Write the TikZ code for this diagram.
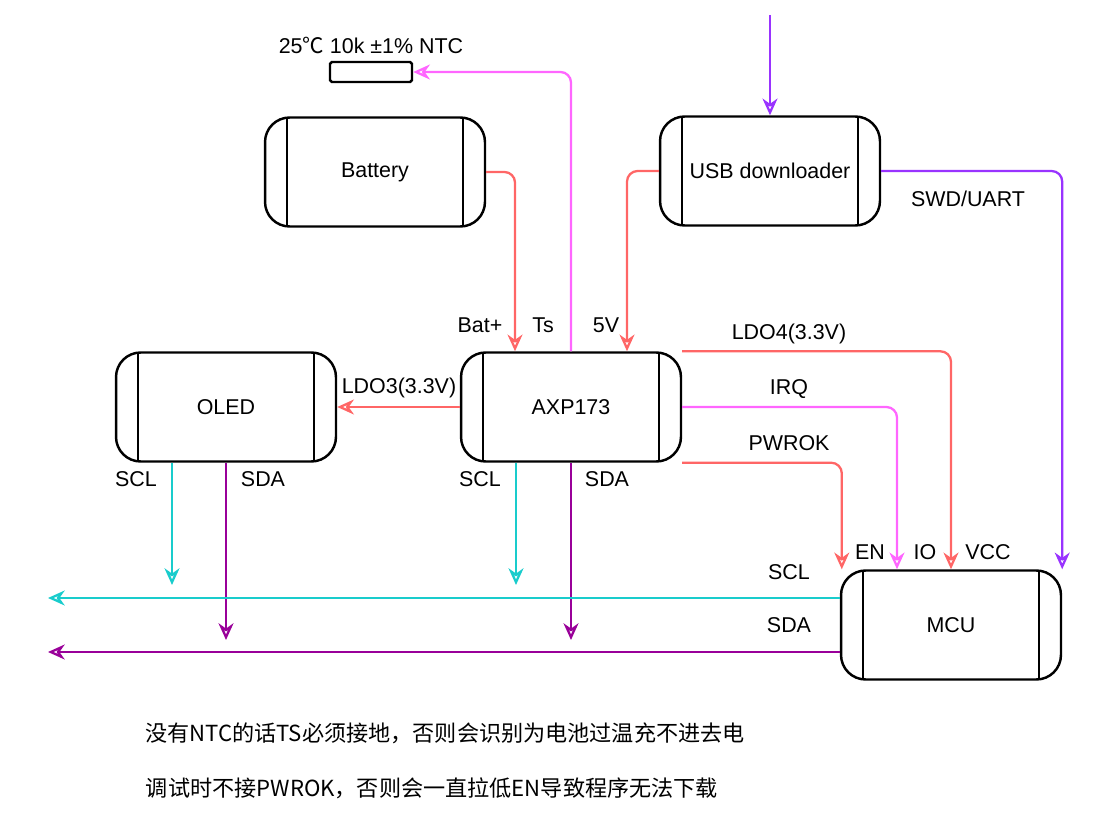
\documentclass[tikz,border=0pt]{standalone}
\usepackage{fontspec}
\setmainfont{Liberation Sans}
\newfontfamily\cjk{Noto Sans CJK SC}
\usepackage{tikz}
\usetikzlibrary{calc,arrows.meta}
\definecolor{salmon}{HTML}{FF6666}
\definecolor{orchid}{HTML}{FF66FF}
\definecolor{violet}{HTML}{9933FF}
\definecolor{teal}{HTML}{19CCCC}
\definecolor{plum}{HTML}{990099}
\tikzset{
  proc/.style={draw,line width=1.4pt,rounded corners=14pt,minimum width=4.4cm,minimum height=2.18cm,font=\fontsize{12.2}{14}\selectfont,
    path picture={\draw[line width=1pt] ([xshift=0.44cm]path picture bounding box.north west)--([xshift=0.44cm]path picture bounding box.south west);
      \draw[line width=1pt] ([xshift=-0.44cm]path picture bounding box.north east)--([xshift=-0.44cm]path picture bounding box.south east);}},
  lab/.style={inner sep=0pt,font=\fontsize{12.2}{14}\selectfont},
  wire/.style={line width=1.3pt,rounded corners=6pt,-{Stealth[open,length=9.5pt,width=8.5pt,inset=3pt]}}
}
\begin{document}
\begin{tikzpicture}[x=0.02cm,y=-0.02cm]
\useasboundingbox (0,0) rectangle (1116,828);
\node[draw,line width=1.4pt,rounded corners=1pt,minimum width=1.64cm,minimum height=0.4cm] (ntc) at (371,72) {};
\node[proc] (bat) at (375,172) {Battery};
\node[proc] (usb) at (770,171) {USB downloader};
\node[proc] (oled) at (226,407) {OLED};
\node[proc] (axp) at (571,407) {AXP173};
\node[proc] (mcu) at (951,625) {MCU};
\coordinate (usbin) at (770,15);
\coordinate (osclend) at (172,585);
\coordinate (osdaend) at (226,640);
\coordinate (asclend) at (516,585);
\coordinate (asdaend) at (571,640);
\coordinate (sclend) at (48,598);
\coordinate (sdaend) at (48,652);
% power and control
\draw[wire,salmon] (bat.east) -| ($(axp.north)+(-56,0)$);
\draw[wire,orchid] (axp.north) |- (ntc.east);
\draw[wire,salmon] (usb.west) -| ($(axp.north)+(56,0)$);
\draw[wire,violet] (usbin) -- (usb.north);
\draw[wire,violet] (usb.east) -| (mcu.north east);
\draw[wire,salmon] (axp.west) -- (oled.east);
\draw[wire,salmon] (axp.north east) -| (mcu.north);
\draw[wire,orchid] (axp.east) -| ($(mcu.north)+(-54,0)$);
\draw[wire,salmon] (axp.south east) -| ($(mcu.north west)+(2,0)$);
% i2c bus
\draw[wire,teal] ($(oled.south)+(-54,0)$) -- (osclend);
\draw[wire,plum] (oled.south) -- (osdaend);
\draw[wire,teal] ($(axp.south)+(-55,0)$) -- (asclend);
\draw[wire,plum] (axp.south) -- (asdaend);
\draw[wire,teal] ($(mcu.west)+(0,-27)$) -- (sclend);
\draw[wire,plum] ($(mcu.west)+(0,27)$) -- (sdaend);
% labels
\node[lab] (ntclab) at (371,45) {25{\cjk ℃} 10k ±1\% NTC};
\node[lab] (batp) at (480,325) {Bat+};
\node[lab] (ts) at (543,325) {Ts};
\node[lab] (fivev) at (606,325) {5V};
\node[lab] (ldo3) at (399,388) {LDO3(3.3V)};
\node[lab] (ldo4) at (789,334) {LDO4(3.3V)};
\node[lab] (irq) at (789,389) {IRQ};
\node[lab] (pwrok) at (789,443) {PWROK};
\node[lab] (swd) at (968,199) {SWD/UART};
\node[lab] (en) at (870,552) {EN};
\node[lab] (io) at (925,552) {IO};
\node[lab] (vcc) at (988,552) {VCC};
\node[lab] (oscl) at (136,479) {SCL};
\node[lab] (osda) at (263,479) {SDA};
\node[lab] (ascl) at (480,479) {SCL};
\node[lab] (asda) at (607,479) {SDA};
\node[lab] (mscl) at (789,572) {SCL};
\node[lab] (msda) at (789,625) {SDA};
\node[lab,font=\cjk\fontsize{12.6}{14}\selectfont] (note1) at (445,733) {没有NTC的话TS必须接地，否则会识别为电池过温充不进去电};
\node[lab,font=\cjk\fontsize{12.6}{14}\selectfont] (note2) at (432,788) {调试时不接PWROK，否则会一直拉低EN导致程序无法下载};
\end{tikzpicture}
\end{document}
